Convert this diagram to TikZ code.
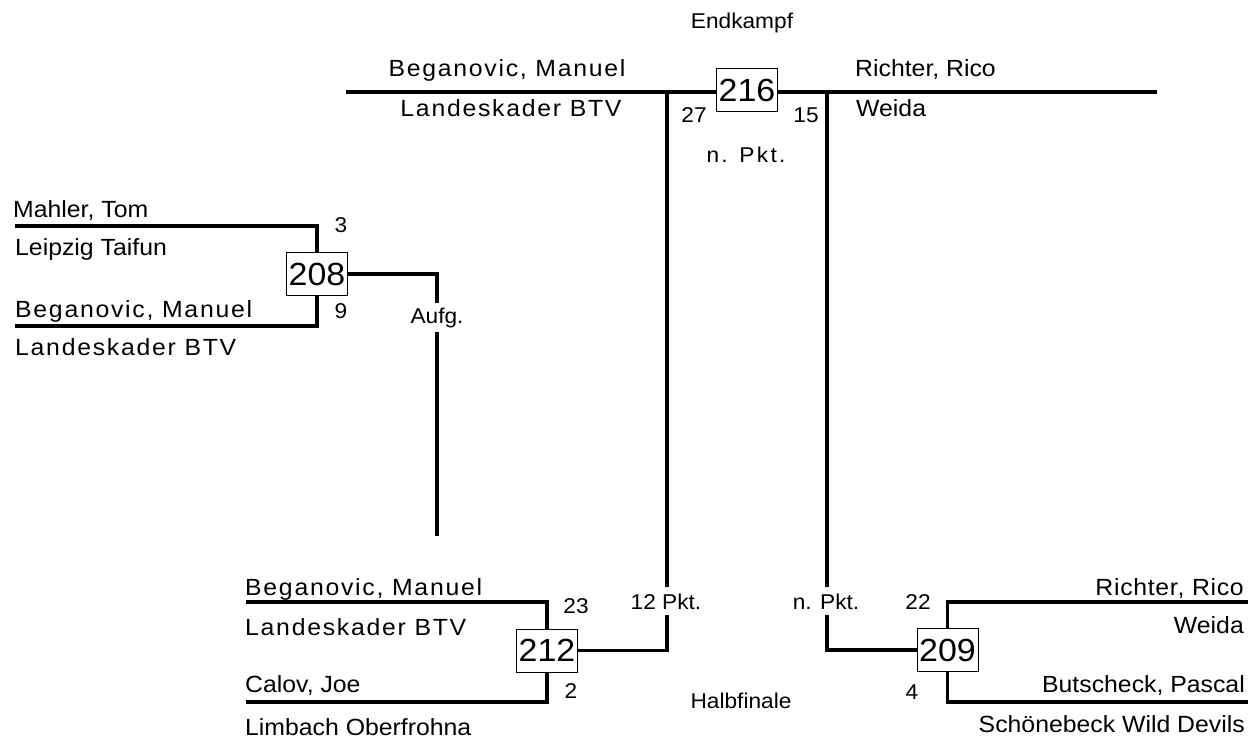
\documentclass[tikz,border=0pt]{standalone}
\usepackage{fontspec}
\setmainfont[FakeStretch=1.06]{Liberation Sans}
\newfontfamily\spfont[FakeStretch=1.06,LetterSpace=7.4]{Liberation Sans}
\newfontfamily\spfontb[FakeStretch=1.06,LetterSpace=11]{Liberation Sans}
\newfontfamily\spfontc[FakeStretch=1.06,LetterSpace=3]{Liberation Sans}
\newcommand\nmsz{\fontsize{23.4bp}{27bp}\selectfont}
\newcommand\lbsz{\fontsize{21.4bp}{25bp}\selectfont}
\newcommand\boxsz{\fontsize{32bp}{34bp}\selectfont}
\pgfdeclarelayer{bg}
\pgfdeclarelayer{background}
\pgfsetlayers{bg,background,main}
\begin{document}
\begin{tikzpicture}[x=1bp,y=-1bp,
  conn/.style={line width=3.3bp},
  bx/.style={draw,line width=1bp,fill=white,minimum width=61bp,minimum height=43bp,inner sep=0pt,font=\boxsz},
  nm/.style={inner sep=0pt,font=\nmsz},
  nmsp/.style={inner sep=0pt,font=\spfont\nmsz},
  lb/.style={inner sep=0pt,font=\lbsz},
  gap/.style={fill=white,inner xsep=2bp,inner ysep=6bp,font=\lbsz}]
\begin{pgfonlayer}{bg}
\fill[white] (0,0) rectangle (1250,739);
\end{pgfonlayer}
\useasboundingbox (0,0) rectangle (1250,739);

% boxes
\node[bx] (b216) at (747,90) {216};
\node[bx] (b208) at (317,274) {208};
\node[bx] (b212) at (547,650.5) {212};
\node[bx] (b209) at (947.5,650) {209};

% coordinates
\coordinate (tL) at (346,92);
\coordinate (tR) at (1157,92);
\coordinate (vL) at (667,92);
\coordinate (vR) at (827,92);
\coordinate (a1) at (15,226);
\coordinate (a2) at (15,326);
\coordinate (aEnd) at (437,536);
\coordinate (c1) at (246,602);
\coordinate (c2) at (246,702);
\coordinate (d1) at (1248,602);
\coordinate (d2) at (1248,702);

% connectors
\begin{pgfonlayer}{background}
\draw[conn] (tL) -- (tR);
\draw[conn] (vL) |- (b212.east);
\draw[conn] (vR) |- (b209.west);
\draw[conn] (a1) -| (b208.north);
\draw[conn] (a2) -| (b208.south);
\draw[conn] (b208.east) -| (aEnd);
\draw[conn] (c1) -| (b212.north);
\draw[conn] (c2) -| (b212.south);
\draw[conn] (d1) -| (b209.north);
\draw[conn] (d2) -| (b209.south);
\end{pgfonlayer}

% titles
\node[lb,anchor=base] (endk) at (742,29) {Endkampf};
\node[lb,anchor=base] (halb) at (741,708) {Halbfinale};

% final
\node[nmsp,anchor=base] (fBeg) at (507,77) {Beganovic, Manuel};
\node[nmsp,anchor=base] (fLan) at (511,117) {Landeskader BTV};
\node[nm,anchor=base west] (fRic) at (855,77) {Richter, Rico};
\node[nm,anchor=base west] (fWei) at (856,117) {Weida};
\node[lb,anchor=base] (s27) at (694,123) {27};
\node[lb,anchor=base] (s15) at (806,123) {15};
\node[lb,anchor=base,font=\spfontb\lbsz] (fnp) at (746,162) {n. Pkt.};

% 208
\node[nm,anchor=base west] (mah) at (13,217) {Mahler, Tom};
\node[nm,anchor=base west] (lei) at (15,255) {Leipzig Taifun};
\node[nmsp,anchor=base west] (beg1) at (15,317) {Beganovic, Manuel};
\node[nmsp,anchor=base west] (lan1) at (15,355) {Landeskader BTV};
\node[lb,anchor=base] (s3) at (341,232) {3};
\node[lb,anchor=base] (s9) at (341,318) {9};
\node[gap,anchor=base,inner ysep=5bp] (aufg) at (437,323) {Aufg.};

% 212
\node[nmsp,anchor=base west] (beg2) at (245,595) {Beganovic, Manuel};
\node[nmsp,anchor=base west] (lan2) at (245,635) {Landeskader BTV};
\node[nm,anchor=base west] (cal) at (245,692) {Calov, Joe};
\node[nm,anchor=base west] (lim) at (245,735) {Limbach Oberfrohna};
\node[lb,anchor=base] (s23) at (576,613) {23};
\node[lb,anchor=base] (s2) at (571,698) {2};
\node[gap,anchor=base] (p12) at (666,609) {12 Pkt.};

% 209
\node[nm,anchor=base east,font=\spfontc\nmsz] (ric2) at (1244,595) {Richter, Rico};
\node[nm,anchor=base east] (wei2) at (1244,633) {Weida};
\node[nm,anchor=base east] (but) at (1245,692) {Butscheck, Pascal};
\node[nm,anchor=base east] (sch) at (1245,732) {Schönebeck Wild Devils};
\node[lb,anchor=base] (s22) at (918,609) {22};
\node[lb,anchor=base] (s4) at (912,699) {4};
\node[gap,anchor=base] (npb) at (826,609) {n. Pkt.};
\end{tikzpicture}
\end{document}
